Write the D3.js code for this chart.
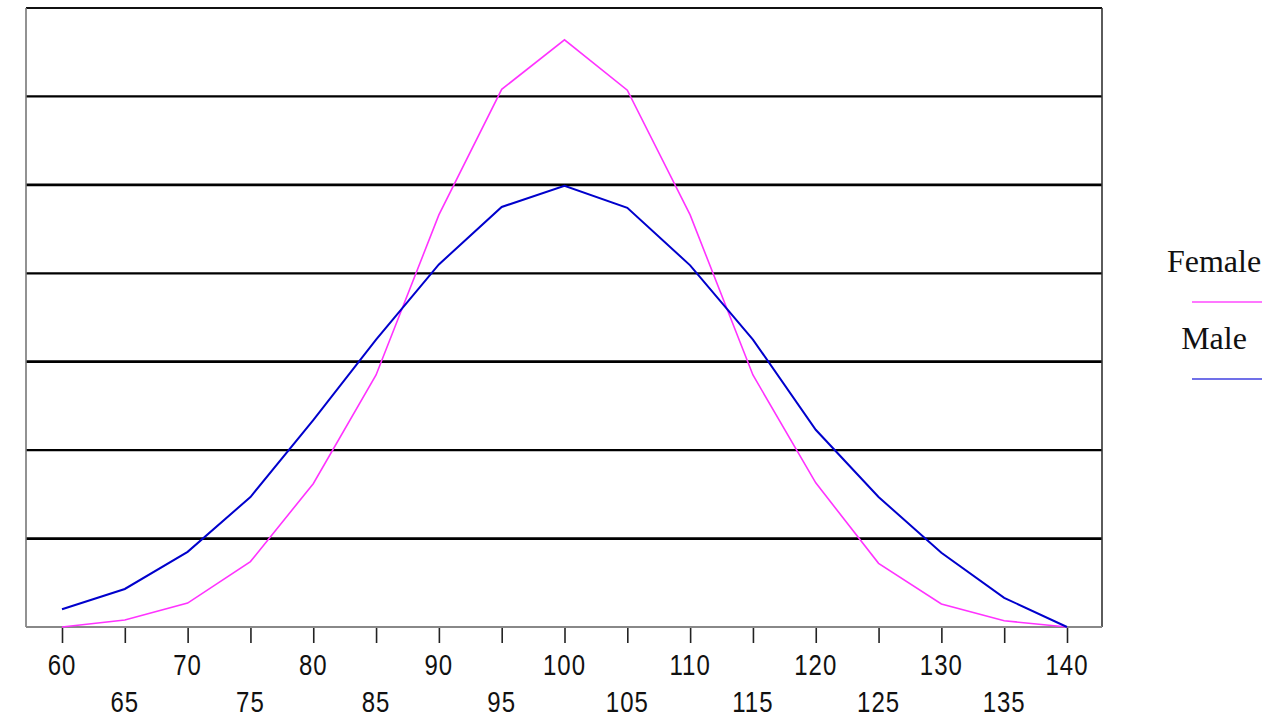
<!DOCTYPE html>
<html>
<head>
<meta charset="utf-8">
<script src="https://cdn.jsdelivr.net/npm/d3@7"></script>
<style>
  body { margin: 0; background: #fff; }
  svg { display: block; }
</style>
</head>
<body>
<div id="chart"></div>
<script>
// x categories (score bins) and the two series
const scores = [60, 65, 70, 75, 80, 85, 90, 95, 100, 105, 110, 115, 120, 125, 130, 135, 140];
const female = [0, 0.08, 0.27, 0.74, 1.62, 2.85, 4.66, 6.08, 6.64, 6.07, 4.66, 2.85, 1.63, 0.72, 0.26, 0.07, 0];
const male = [0.2, 0.43, 0.85, 1.47, 2.34, 3.25, 4.1, 4.75, 4.99, 4.74, 4.09, 3.25, 2.23, 1.47, 0.84, 0.33, 0];
const gridValues = [1, 2, 3, 4, 5, 6];
const seriesNames = ["Female", "Male"];

const W = 1280, H = 720;
const plot = { left: 26, right: 1102, top: 8, bottom: 627 };

const svg = d3.select("#chart").append("svg")
    .attr("width", W)
    .attr("height", H);

const x = d3.scaleLinear()
    .domain([60, 140])
    .range([62, 1067]);

const y = d3.scaleLinear()
    .domain([0, 7])
    .range([plot.bottom, plot.top]);

// Gridlines
svg.append("g")
    .selectAll("line")
    .data(gridValues)
    .join("line")
    .attr("x1", plot.left)
    .attr("x2", plot.right)
    .attr("y1", d => y(d))
    .attr("y2", d => y(d))
    .attr("stroke", "#000")
    .attr("stroke-width", (d, i) => i % 2 ? 2.2 : 2.8);

// Frame
svg.append("line")
    .attr("x1", plot.left).attr("x2", plot.right)
    .attr("y1", plot.top).attr("y2", plot.top)
    .attr("stroke", "#111").attr("stroke-width", 2.2);
svg.append("line")
    .attr("x1", plot.left).attr("x2", plot.left)
    .attr("y1", plot.top).attr("y2", plot.bottom)
    .attr("stroke", "#777").attr("stroke-width", 1.6);
svg.append("line")
    .attr("x1", plot.right).attr("x2", plot.right)
    .attr("y1", plot.top).attr("y2", plot.bottom)
    .attr("stroke", "#333").attr("stroke-width", 1.6);

// X axis
const xAxis = svg.append("g")
    .attr("transform", `translate(0,${plot.bottom})`)
    .call(d3.axisBottom(x).tickValues(scores).tickSize(16).tickFormat(""));
xAxis.select(".domain").remove();
xAxis.selectAll(".tick line").attr("stroke", "#222").attr("stroke-width", 1.6);
svg.append("line")
    .attr("x1", plot.left).attr("x2", plot.right)
    .attr("y1", plot.bottom).attr("y2", plot.bottom)
    .attr("stroke", "#888").attr("stroke-width", 1.8);

// Tick labels on two staggered rows
svg.append("g")
    .selectAll("text")
    .data(scores)
    .join("text")
    .attr("transform", (d, i) => `translate(${x(d)},${i % 2 ? 712 : 675}) scale(1,1.2)`)
    .attr("text-anchor", "middle")
    .attr("font-family", "Liberation Sans, Arial, sans-serif")
    .attr("font-size", 24)
    .attr("letter-spacing", 1)
    .attr("fill", "#111")
    .text(d => d);

// Lines
const line = d3.line()
    .x((d, i) => x(scores[i]))
    .y(d => y(d));

svg.append("path")
    .datum(female)
    .attr("fill", "none")
    .attr("stroke", "#ff33ff")
    .attr("stroke-width", 1.6)
    .attr("d", line);

svg.append("path")
    .datum(male)
    .attr("fill", "none")
    .attr("stroke", "#0000cc")
    .attr("stroke-width", 2)
    .attr("d", line);

// Legend
const legendColors = ["#ff77ff", "#7070e8"];
const legend = svg.append("g");
seriesNames.forEach((name, i) => {
    const top = 262 + i * 77;
    legend.append("text")
        .attr("x", 1214)
        .attr("y", top + 10)
        .attr("text-anchor", "middle")
        .attr("font-family", "Liberation Serif, Times New Roman, serif")
        .attr("font-size", 32)
        .attr("fill", "#111")
        .text(name);
    legend.append("line")
        .attr("x1", 1192).attr("x2", 1262)
        .attr("y1", top + 40).attr("y2", top + 40)
        .attr("stroke", legendColors[i])
        .attr("stroke-width", 2);
});
</script>
</body>
</html>
